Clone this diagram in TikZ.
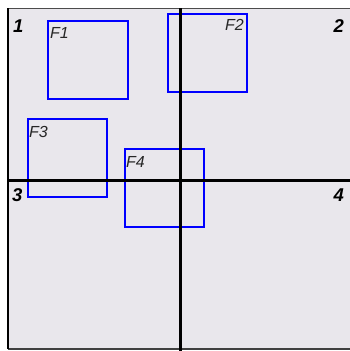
\documentclass[tikz,border=0pt]{standalone}
\usepackage{fontspec}
\setmainfont{Liberation Sans}
\begin{document}
\begin{tikzpicture}[x=1pt,y=-1pt,
  frame/.style={blue,line width=2pt},
  axis/.style={black,line width=3pt},
  flabel/.style={inner sep=0pt,font=\fontsize{16}{16}\selectfont\itshape,text=black!85},
  qlabel/.style={inner sep=0pt,font=\fontsize{18.5}{18}\selectfont\bfseries\itshape}]
\useasboundingbox (0,0) rectangle (350,351);
\fill[white] (0,0) rectangle (350,351);
\fill[fill={rgb,255:red,233;green,231;blue,236}] (8,8) rectangle (352,349);
\draw[line width=1pt,black!70] (8,8) -- (352,8);
\draw[line width=1.2pt,black!75] (8,349) -- (352,349);
\draw[line width=2pt,black] (8,8) -- (8,349);
% frames
\draw[frame] (48,21) rectangle (128,99);
\draw[frame] (168,14) rectangle (247,92);
\draw[frame] (28,119) rectangle (107,197);
\draw[frame] (125,149) rectangle (204,227);
% axes
\coordinate (vt) at (180,8);
\coordinate (vb) at (180,351);
\coordinate (hl) at (8,180);
\coordinate (hr) at (350,180);
\draw[axis] (vt) -- (vb);
\draw[axis] (hl) -- (hr);
% labels
\node[flabel,anchor=base west] (f1) at (50,38) {F1};
\node[flabel,anchor=base east] (f2) at (244,30) {F2};
\node[flabel,anchor=base west] (f3) at (29,137) {F3};
\node[flabel,anchor=base west] (f4) at (126,167) {F4};
\node[qlabel,anchor=base west] (q1) at (13,32) {1};
\node[qlabel,anchor=base east] (q2) at (344,32) {2};
\node[qlabel,anchor=base west] (q3) at (12,201) {3};
\node[qlabel,anchor=base east] (q4) at (344,201) {4};
\end{tikzpicture}
\end{document}
